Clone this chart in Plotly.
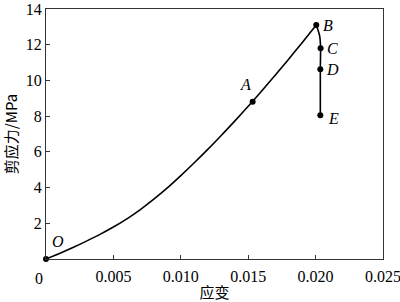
import plotly.graph_objects as go

# Loading curve O -> B
curve_strain = [0, 0.001, 0.002, 0.003, 0.004, 0.005, 0.006, 0.007, 0.008, 0.009, 0.010,
                0.011, 0.012, 0.013, 0.014, 0.015, 0.016, 0.017, 0.018, 0.019, 0.02005]
curve_stress = [0, 0.31, 0.64, 1.00, 1.38, 1.79, 2.25, 2.77, 3.35, 3.98, 4.67,
                5.39, 6.14, 6.92, 7.72, 8.55, 9.41, 10.29, 11.19, 12.11, 13.1]

# Post-peak branch B -> E
drop_strain = [0.02005, 0.0203, 0.02037, 0.02035, 0.02035]
drop_stress = [13.1, 12.5, 11.8, 10.63, 8.05]

# Labelled points
pt_names = ["O", "A", "B", "C", "D", "E"]
pt_strain = [0, 0.01533, 0.02005, 0.02037, 0.02035, 0.02035]
pt_stress = [0, 8.8, 13.1, 11.8, 10.63, 8.05]
pt_dx = [0.0009, -0.0005, 0.0009, 0.0009, 0.0009, 0.001]
pt_dy = [1.0, 0.95, 0.0, 0.0, 0.0, -0.2]

xticks = [0, 0.005, 0.010, 0.015, 0.020, 0.025]
xticklabels = ["", "0.005", "0.010", "0.015", "0.020", "0.025"]
yticks = [0, 2, 4, 6, 8, 10, 12, 14]
yticklabels = ["", "2", "4", "6", "8", "10", "12", "14"]

serif = "Liberation Serif"
cjk = "Noto Sans CJK SC"

fig = go.Figure()
fig.add_trace(go.Scatter(x=curve_strain, y=curve_stress, mode="lines",
                         line=dict(color="black", width=1.6, shape="spline", smoothing=1.0),
                         showlegend=False, hoverinfo="skip"))
fig.add_trace(go.Scatter(x=drop_strain, y=drop_stress, mode="lines",
                         line=dict(color="black", width=1.6, shape="spline", smoothing=0.6),
                         showlegend=False, hoverinfo="skip"))
fig.add_trace(go.Scatter(x=pt_strain, y=pt_stress, mode="markers",
                         marker=dict(color="black", size=6),
                         showlegend=False, cliponaxis=False))

for n, x, y, dx, dy in zip(pt_names, pt_strain, pt_stress, pt_dx, pt_dy):
    fig.add_annotation(x=x + dx, y=y + dy, text="<i>" + n + "</i>", showarrow=False,
                       font=dict(family=serif, size=16, color="black"),
                       xanchor="center", yanchor="middle")

fig.add_annotation(xref="paper", yref="paper", x=-0.02, y=-0.035, text="0",
                   showarrow=False, xanchor="center", yanchor="top",
                   font=dict(family=serif, size=16, color="black"))

fig.update_xaxes(range=[0, 0.025], tickvals=xticks, ticktext=xticklabels,
                 ticks="inside", ticklen=4, tickwidth=1, tickcolor="#333",
                 showline=True, linecolor="#333", linewidth=1, mirror=True,
                 showgrid=False, zeroline=False, ticklabeloverflow="allow",
                 ticklabelstandoff=3, automargin=False,
                 tickfont=dict(family=serif, size=16, color="black"),
                 title=dict(text="应变", font=dict(family=cjk, size=15, color="black"), standoff=6))
fig.update_yaxes(range=[0, 14], tickvals=yticks, ticktext=yticklabels,
                 ticks="inside", ticklen=4, tickwidth=1, tickcolor="#333",
                 showline=True, linecolor="#333", linewidth=1, mirror=True,
                 showgrid=False, zeroline=False, ticklabeloverflow="allow",
                 automargin=False,
                 tickfont=dict(family=serif, size=16, color="black"),
                 title=dict(text="剪应力/MPa", font=dict(family=cjk, size=15, color="black"), standoff=4))

fig.update_layout(width=400, height=302, margin=dict(l=46, r=17, t=9, b=43),
                  plot_bgcolor="white", paper_bgcolor="white")

fig.write_html("out.html")
